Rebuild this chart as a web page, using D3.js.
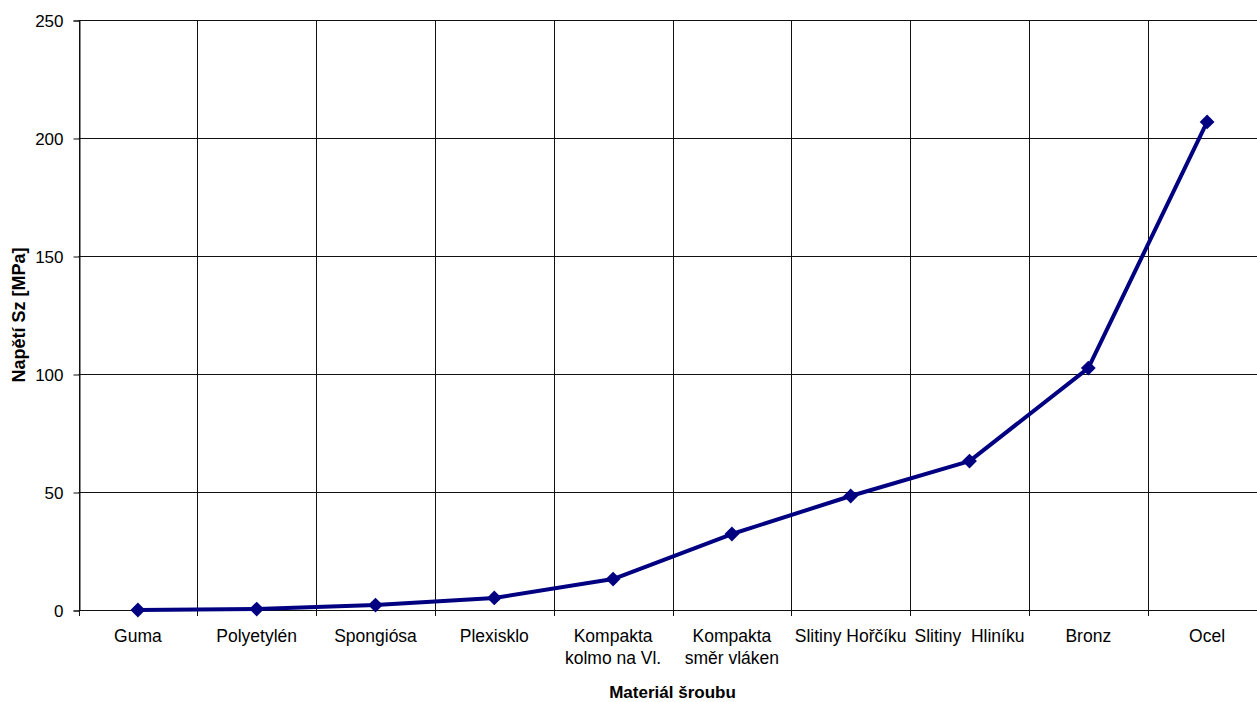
<!DOCTYPE html>
<html>
<head>
<meta charset="utf-8">
<script src="https://cdn.jsdelivr.net/npm/d3@7"></script>
<style>
  html, body { margin: 0; padding: 0; background: #fff; overflow: hidden; }
  svg { display: block; }
  text { font-family: "Liberation Sans", Arial, sans-serif; fill: #000; }
</style>
</head>
<body>
<svg id="chart" width="1257" height="702"></svg>
<script>
// Screw material categories (each label may span two lines)
const categories = [
  ["Guma"],
  ["Polyetylén"],
  ["Spongiósa"],
  ["Plexisklo"],
  ["Kompakta", "kolmo na Vl."],
  ["Kompakta", "směr vláken"],
  ["Slitiny Hořčíku"],
  ["Slitiny  Hliníku"],
  ["Bronz"],
  ["Ocel"]
];
// Stress Sz [MPa] per material
const stressValues = [0, 0.4, 2.1, 5.1, 13.1, 32.2, 48.3, 63.1, 102.5, 206.8];
const yTicks = [0, 50, 100, 150, 200, 250];
const xTitle = "Materiál šroubu";
const yTitle = "Napětí Sz [MPa]";

const svg = d3.select("#chart");
const plot = { left: 78.5, top: 20, right: 1266.5, bottom: 610 };

const keys = categories.map((c, i) => i);
const x = d3.scaleBand().domain(keys).range([plot.left, plot.right]).padding(0);
const y = d3.scaleLinear().domain([0, 250]).range([plot.bottom, plot.top]);

const gridColor = "#111";

// Horizontal gridlines
svg.append("g").selectAll("line").data(yTicks).join("line")
  .attr("x1", plot.left).attr("x2", plot.right)
  .attr("y1", d => Math.round(y(d)) + 0.5).attr("y2", d => Math.round(y(d)) + 0.5)
  .attr("stroke", gridColor).attr("stroke-width", 1);

// Vertical gridlines at category boundaries
const bounds = keys.map(k => x(k)).concat([plot.right]);
svg.append("g").selectAll("line").data(bounds).join("line")
  .attr("x1", d => Math.round(d) + 0.5).attr("x2", d => Math.round(d) + 0.5)
  .attr("y1", plot.top).attr("y2", plot.bottom + 6)
  .attr("stroke", gridColor).attr("stroke-width", 1);

// Y axis
const yAxis = d3.axisLeft(y).tickValues(yTicks).tickSize(6).tickPadding(10);
const gy = svg.append("g").attr("transform", `translate(${Math.round(plot.left) + 0.5},0.5)`).call(yAxis);
gy.select(".domain").attr("stroke", gridColor);
gy.selectAll(".tick line").attr("stroke", gridColor);
gy.selectAll(".tick text")
  .attr("font-size", 17).attr("font-family", "Liberation Sans, Arial, sans-serif")
  .attr("fill", "#000").attr("dy", "0.35em");

// Category labels
const labels = svg.append("g").selectAll("text").data(categories).join("text")
  .attr("text-anchor", "middle")
  .attr("font-size", 17.5)
  .attr("y", 642)
  .attr("xml:space", "preserve")
  .style("white-space", "pre");
labels.each(function(lines, i) {
  const t = d3.select(this);
  const cx = x(i) + x.bandwidth() / 2;
  lines.forEach((ln, j) => {
    t.append("tspan").attr("x", cx).attr("dy", j === 0 ? 0 : 21.5).text(ln);
  });
});

// Axis titles
svg.append("text")
  .attr("x", (plot.left + plot.right) / 2).attr("y", 698)
  .attr("text-anchor", "middle").attr("font-weight", "bold").attr("font-size", 17)
  .text(xTitle);
svg.append("text")
  .attr("transform", `translate(24.5,${(plot.top + plot.bottom) / 2}) rotate(-90)`)
  .attr("text-anchor", "middle").attr("font-weight", "bold").attr("font-size", 18)
  .text(yTitle);

// Data line
const pts = stressValues.map((v, i) => [x(i) + x.bandwidth() / 2, y(v)]);
svg.append("path")
  .attr("d", d3.line()(pts))
  .attr("fill", "none").attr("stroke", "#000080")
  .attr("stroke-width", 4).attr("stroke-linejoin", "round");

// Diamond markers
const diamond = d3.symbol().type(d3.symbolDiamond2).size(140);
svg.append("g").selectAll("path").data(pts).join("path")
  .attr("transform", d => `translate(${d[0]},${d[1]})`)
  .attr("d", diamond)
  .attr("fill", "#000080");
</script>
</body>
</html>
